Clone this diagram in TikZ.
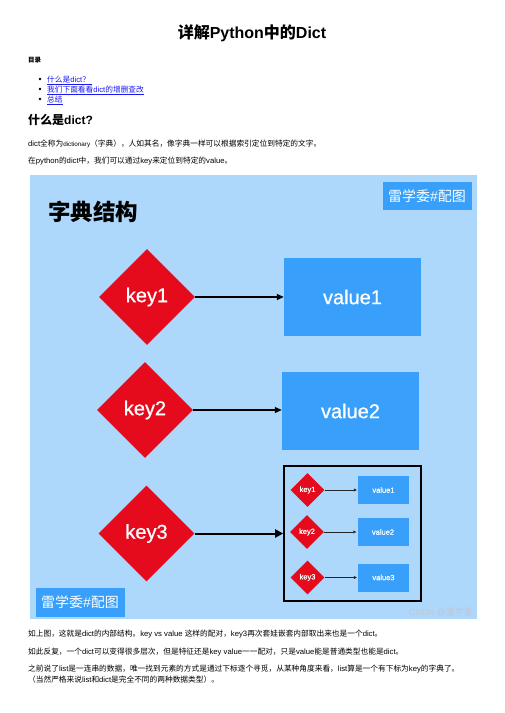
\documentclass[tikz,border=0pt]{standalone}
\usepackage{fontspec}
\setmainfont{Liberation Sans}
\newfontfamily\cjkf{Noto Sans CJK SC}
\newfontfamily\latf{Liberation Sans}
\newfontfamily\latmed[FakeBold=0.8]{Liberation Sans}
\usetikzlibrary{shapes.geometric,arrows.meta}
\newXeTeXintercharclass\cjkclass
\makeatletter
\newcount\cjk@c
\def\cjk@range#1#2{\cjk@c=#1\relax\loop\XeTeXcharclass\cjk@c=\cjkclass\advance\cjk@c 1\relax\ifnum\cjk@c<#2\repeat}
\cjk@range{"2E80}{"A000}
\cjk@range{"FF00}{"FFF0}
\makeatother
\XeTeXinterchartokenstate=1
\XeTeXinterchartoks 0 \cjkclass = {\cjkf}
\XeTeXinterchartoks \cjkclass 0 = {\latf}
\XeTeXinterchartoks 4095 \cjkclass = {\cjkf}
\XeTeXinterchartoks \cjkclass 4095 = {\latf}
\definecolor{panel}{RGB}{173,216,251}
\definecolor{valblue}{RGB}{56,160,250}
\definecolor{keyred}{RGB}{229,10,28}
\definecolor{linkblue}{RGB}{25,25,240}
\definecolor{wmgrey}{RGB}{188,199,213}
\tikzset{
  keybig/.style={diamond, aspect=1, fill=keyred, text=white, inner sep=0pt, minimum width=96pt, minimum height=96pt, font=\latmed\fontsize{20}{24}\selectfont},
  keysmall/.style={diamond, aspect=1, fill=keyred, text=white, inner sep=0pt, minimum width=34pt, minimum height=34pt, font=\latmed\fontsize{7.5}{9}\selectfont},
  valbig/.style={rectangle, fill=valblue, text=white, inner sep=0pt, minimum width=137pt, minimum height=78pt, font=\latmed\fontsize{20}{24}\selectfont},
  valsmall/.style={rectangle, fill=valblue, text=white, inner sep=0pt, minimum width=51pt, minimum height=28pt, font=\latmed\fontsize{7.5}{9}\selectfont},
  badge/.style={rectangle, fill=valblue, text=white, inner sep=0pt, minimum width=89pt, minimum height=28pt, font=\fontsize{14}{17}\selectfont},
  arr/.style={draw=black, line width=1.1pt, -{Triangle[length=7pt,width=6pt]}},
  arrthick/.style={draw=black, line width=2pt, -{Triangle[length=8pt,width=8pt]}},
  arrsmall/.style={draw=black!85, line width=0.6pt, -{Triangle[length=3pt,width=3pt]}},
  txt/.style={anchor=west, inner sep=0pt, text height=0.85em, text depth=0.2em, font=\fontsize{7.7}{9}\selectfont},
  lnk/.style={txt, text=linkblue},
}
\begin{document}
\begin{tikzpicture}[x=1pt,y=-1pt]
\useasboundingbox (0,0) rectangle (504,713);
\fill[white] (0,0) rectangle (504,713);
% header
\node[font=\bfseries\fontsize{16}{19}\selectfont, inner sep=0pt] (title) at (252,33) {详解Python中的Dict};
\node[txt, font=\bfseries\fontsize{6.5}{8}\selectfont] (toc) at (28,59) {目录};
\fill (40,79) circle (1.3);
\fill (40,89) circle (1.3);
\fill (40,99) circle (1.3);
\node[lnk] (l1) at (47,79) {\underline{什么是dict？ }};
\node[lnk] (l2) at (47,89) {\underline{我们下面看看dict的增删查改}};
\node[lnk] (l3) at (47,99) {\underline{总结}};
\node[txt, font=\bfseries\fontsize{12}{14}\selectfont] (h1) at (28,121) {什么是dict?};
\node[txt] (p1) at (28,143) {dict全称为{\fontsize{6.3}{7}\selectfont dictionary}（字典），人如其名，像字典一样可以根据索引定位到特定的文字。};
\node[txt] (p2) at (28,160) {在python的dict中，我们可以通过key来定位到特定的value。};
% diagram panel
\node[rectangle, fill=panel, inner sep=0pt, minimum width=447pt, minimum height=444pt] (panel) at (253.5,397) {};
\node[anchor=west, inner sep=0pt, font=\bfseries\fontsize{22.5}{27}\selectfont] (dtitle) at (48,212) {字典结构};
\node[badge] (b1) at (427,196) {雷学委\#配图};
\node[badge, minimum height=29pt] (b2) at (80,602.5) {雷学委\#配图};
\node[text=wmgrey, inner sep=0pt, font=\fontsize{9}{11}\selectfont] (wm) at (441,612) {CSDN @雷学委};
\node[keybig] (k1) at (147,297) {key1};
\node[keybig] (k2) at (145,410) {key2};
\node[keybig] (k3) at (146.5,533.5) {key3};
\node[valbig] (v1) at (352.5,297) {value1};
\node[valbig] (v2) at (350.5,411) {value2};
\node[rectangle, draw=black, line width=1.6pt, inner sep=0pt, minimum width=137pt, minimum height=135pt] (box) at (352.5,533.5) {};
\node[keysmall] (sk1) at (307.5,490) {key1};
\node[keysmall] (sk2) at (307,532) {key2};
\node[keysmall] (sk3) at (307.5,577.5) {key3};
\node[valsmall] (sv1) at (383.5,490) {value1};
\node[valsmall] (sv2) at (383,532) {value2};
\node[valsmall] (sv3) at (383.5,577.5) {value3};
\draw[arr] (k1.east) -- (v1.west);
\draw[arr] (k2.east) -- (k2.east -| v2.west);
\draw[arrthick] (k3.east) -- (k3.east -| box.west);
\draw[arrsmall] (sk1.east) -- ([xshift=-1pt]sk1.east -| sv1.west);
\draw[arrsmall] (sk2.east) -- ([xshift=-1pt]sk2.east -| sv2.west);
\draw[arrsmall] (sk3.east) -- ([xshift=-1pt]sk3.east -| sv3.west);
% bottom text
\node[txt] (p3) at (28,633) {如上图，这就是dict的内部结构。key vs value 这样的配对，key3再次套娃嵌套内部取出来也是一个dict。};
\node[txt] (p4) at (28,651) {如此反复，一个dict可以变得很多层次，但是特征还是key value一一配对，只是value能是普通类型也能是dict。};
\node[txt] (p5) at (28,668) {之前说了list是一连串的数据，唯一找到元素的方式是通过下标逐个寻觅，从某种角度来看，list算是一个有下标为key的字典了。};
\node[txt] (p6) at (28,679) {（当然严格来说list和dict是完全不同的两种数据类型）。};
\end{tikzpicture}
\end{document}
